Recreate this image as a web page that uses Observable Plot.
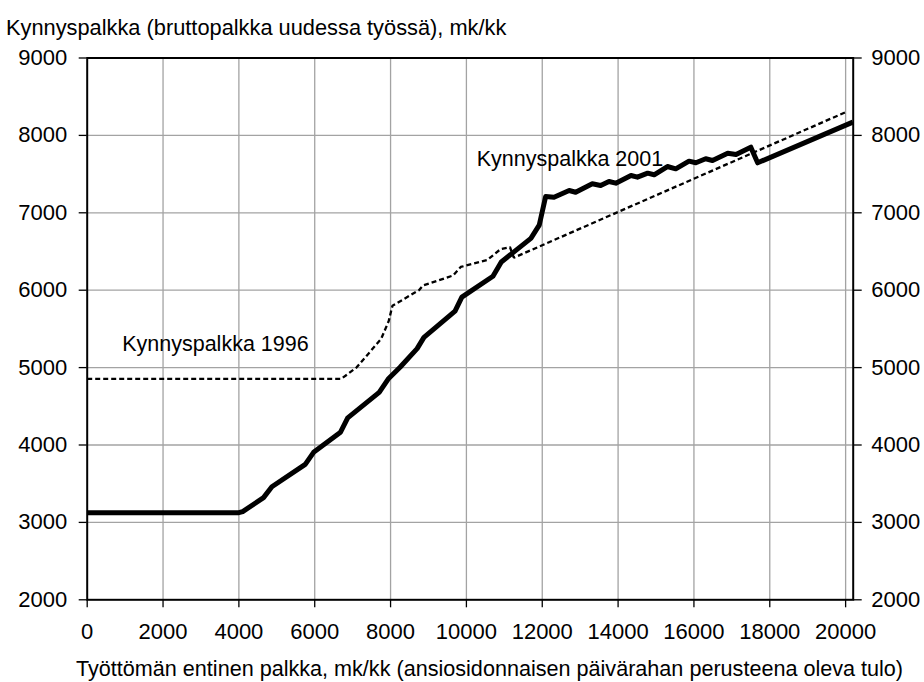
<!DOCTYPE html>
<html>
<head>
<meta charset="utf-8">
<script src="https://cdn.jsdelivr.net/npm/d3@7"></script>
<script src="https://cdn.jsdelivr.net/npm/@observablehq/plot@0.6"></script>
<style>
  html, body { margin: 0; padding: 0; background: #fff; }
  #wrap { width: 924px; height: 682px; position: relative; overflow: hidden; font-family: "Liberation Sans", Arial, sans-serif; color: #000; }
  #title { position: relative; height: 40px; }
  #title span { position: absolute; left: 6px; top: 16px; font-size: 21.8px; line-height: 24px; white-space: nowrap; }
  #chart { height: 610px; }
  #chart svg { display: block; }
  #caption { position: relative; height: 32px; }
  #caption span { position: absolute; left: 76px; top: 7px; font-size: 21.6px; line-height: 24px; white-space: nowrap; }
</style>
</head>
<body>
<div id="wrap">
  <div id="title"><span id="titleText"></span></div>
  <div id="chart"></div>
  <div id="caption"><span id="captionText"></span></div>
</div>
<script>
// ---- Data ----
const titleLabel = "Kynnyspalkka (bruttopalkka uudessa työssä), mk/kk";
const xAxisLabel = "Työttömän entinen palkka, mk/kk (ansiosidonnaisen päivärahan perusteena oleva tulo)";

const xTicks = [0, 2000, 4000, 6000, 8000, 10000, 12000, 14000, 16000, 18000, 20000];
const yTicks = [2000, 3000, 4000, 5000, 6000, 7000, 8000, 9000];

// Kynnyspalkka 2001 (solid, thick)
const x2001 = [0, 4000, 4100, 4650, 4870, 5750, 5970, 6680, 6870, 7700, 7950, 8250, 8700, 8880, 9700, 9880,
  10700, 10920, 11700, 11920, 12090, 12310, 12710, 12880, 13320, 13540, 13760, 13940, 14340, 14510, 14780,
  14950, 15300, 15520, 15870, 16050, 16310, 16490, 16890, 17110, 17500, 17680, 20190];
const y2001 = [3125, 3125, 3140, 3320, 3460, 3750, 3905, 4165, 4350, 4680, 4860, 5005, 5245, 5390, 5730, 5910,
  6180, 6365, 6670, 6840, 7210, 7202, 7288, 7266, 7375, 7353, 7405, 7383, 7482, 7460, 7512,
  7491, 7598, 7568, 7667, 7646, 7698, 7676, 7770, 7753, 7848, 7646, 8171];

// Kynnyspalkka 1996 (dashed, thin)
const x1996 = [0, 6700, 7100, 7750, 7950, 8050, 8750, 8850, 9650, 9850, 10550, 10900, 11150, 11250, 20000];
const y1996 = [4855, 4855, 5000, 5370, 5600, 5800, 6000, 6060, 6190, 6300, 6390, 6530, 6555, 6420, 8300];

// Series labels
const seriesNames = ["Kynnyspalkka 1996", "Kynnyspalkka 2001"];
const seriesLabelX = [923, 10272];
const seriesLabelY = [5308, 7698];

// ---- Build tables ----
const data2001 = x2001.map((x, i) => ({x, y: y2001[i]}));
const data1996 = x1996.map((x, i) => ({x, y: y1996[i]}));
const labelData = seriesNames.map((t, i) => ({t, x: seriesLabelX[i], y: seriesLabelY[i]}));

document.getElementById("titleText").textContent = titleLabel;
document.getElementById("captionText").textContent = xAxisLabel;

const gridColor = "#a3a3a3";
const tickFont = 22;
const fmt = d => String(d);

const chart = Plot.plot({
  width: 924,
  height: 610,
  marginTop: 17.5,
  marginBottom: 50.7,
  marginLeft: 86.7,
  marginRight: 71.3,
  style: {fontFamily: "'Liberation Sans', Arial, sans-serif", fontSize: tickFont + "px", color: "#000", background: "#fff", overflow: "visible"},
  x: {domain: [0, 20200]},
  y: {domain: [2000, 9000]},
  marks: [
    Plot.gridX(xTicks.filter(d => d > 0), {stroke: gridColor, strokeOpacity: 1, strokeWidth: 1.3}),
    Plot.gridY(yTicks.filter(d => d > 2000 && d < 9000), {stroke: gridColor, strokeOpacity: 1, strokeWidth: 1.3}),
    Plot.axisX(xTicks, {anchor: "bottom", tickSize: 8, tickPadding: 16, label: null, tickFormat: fmt, fontSize: tickFont, strokeWidth: 1.3}),
    Plot.axisY(yTicks, {anchor: "left", tickSize: 8, tickPadding: 12, label: null, tickFormat: fmt, fontSize: tickFont, strokeWidth: 1.3}),
    Plot.axisY(yTicks, {anchor: "right", tickSize: 8, tickPadding: 10, label: null, tickFormat: fmt, fontSize: tickFont, strokeWidth: 1.3}),
    Plot.frame({stroke: "#000", strokeWidth: 2}),
    Plot.line(data2001, {x: "x", y: "y", stroke: "#000", strokeWidth: 5, strokeLinejoin: "round", strokeLinecap: "butt"}),
    Plot.line(data1996, {x: "x", y: "y", stroke: "#000", strokeWidth: 2.3, strokeDasharray: "5,3", strokeLinejoin: "miter", strokeLinecap: "butt"}),
    Plot.text(labelData, {x: "x", y: "y", text: "t", textAnchor: "start", fontSize: 21.5, fill: "#000"})
  ]
});
document.getElementById("chart").appendChild(chart);
</script>
</body>
</html>
